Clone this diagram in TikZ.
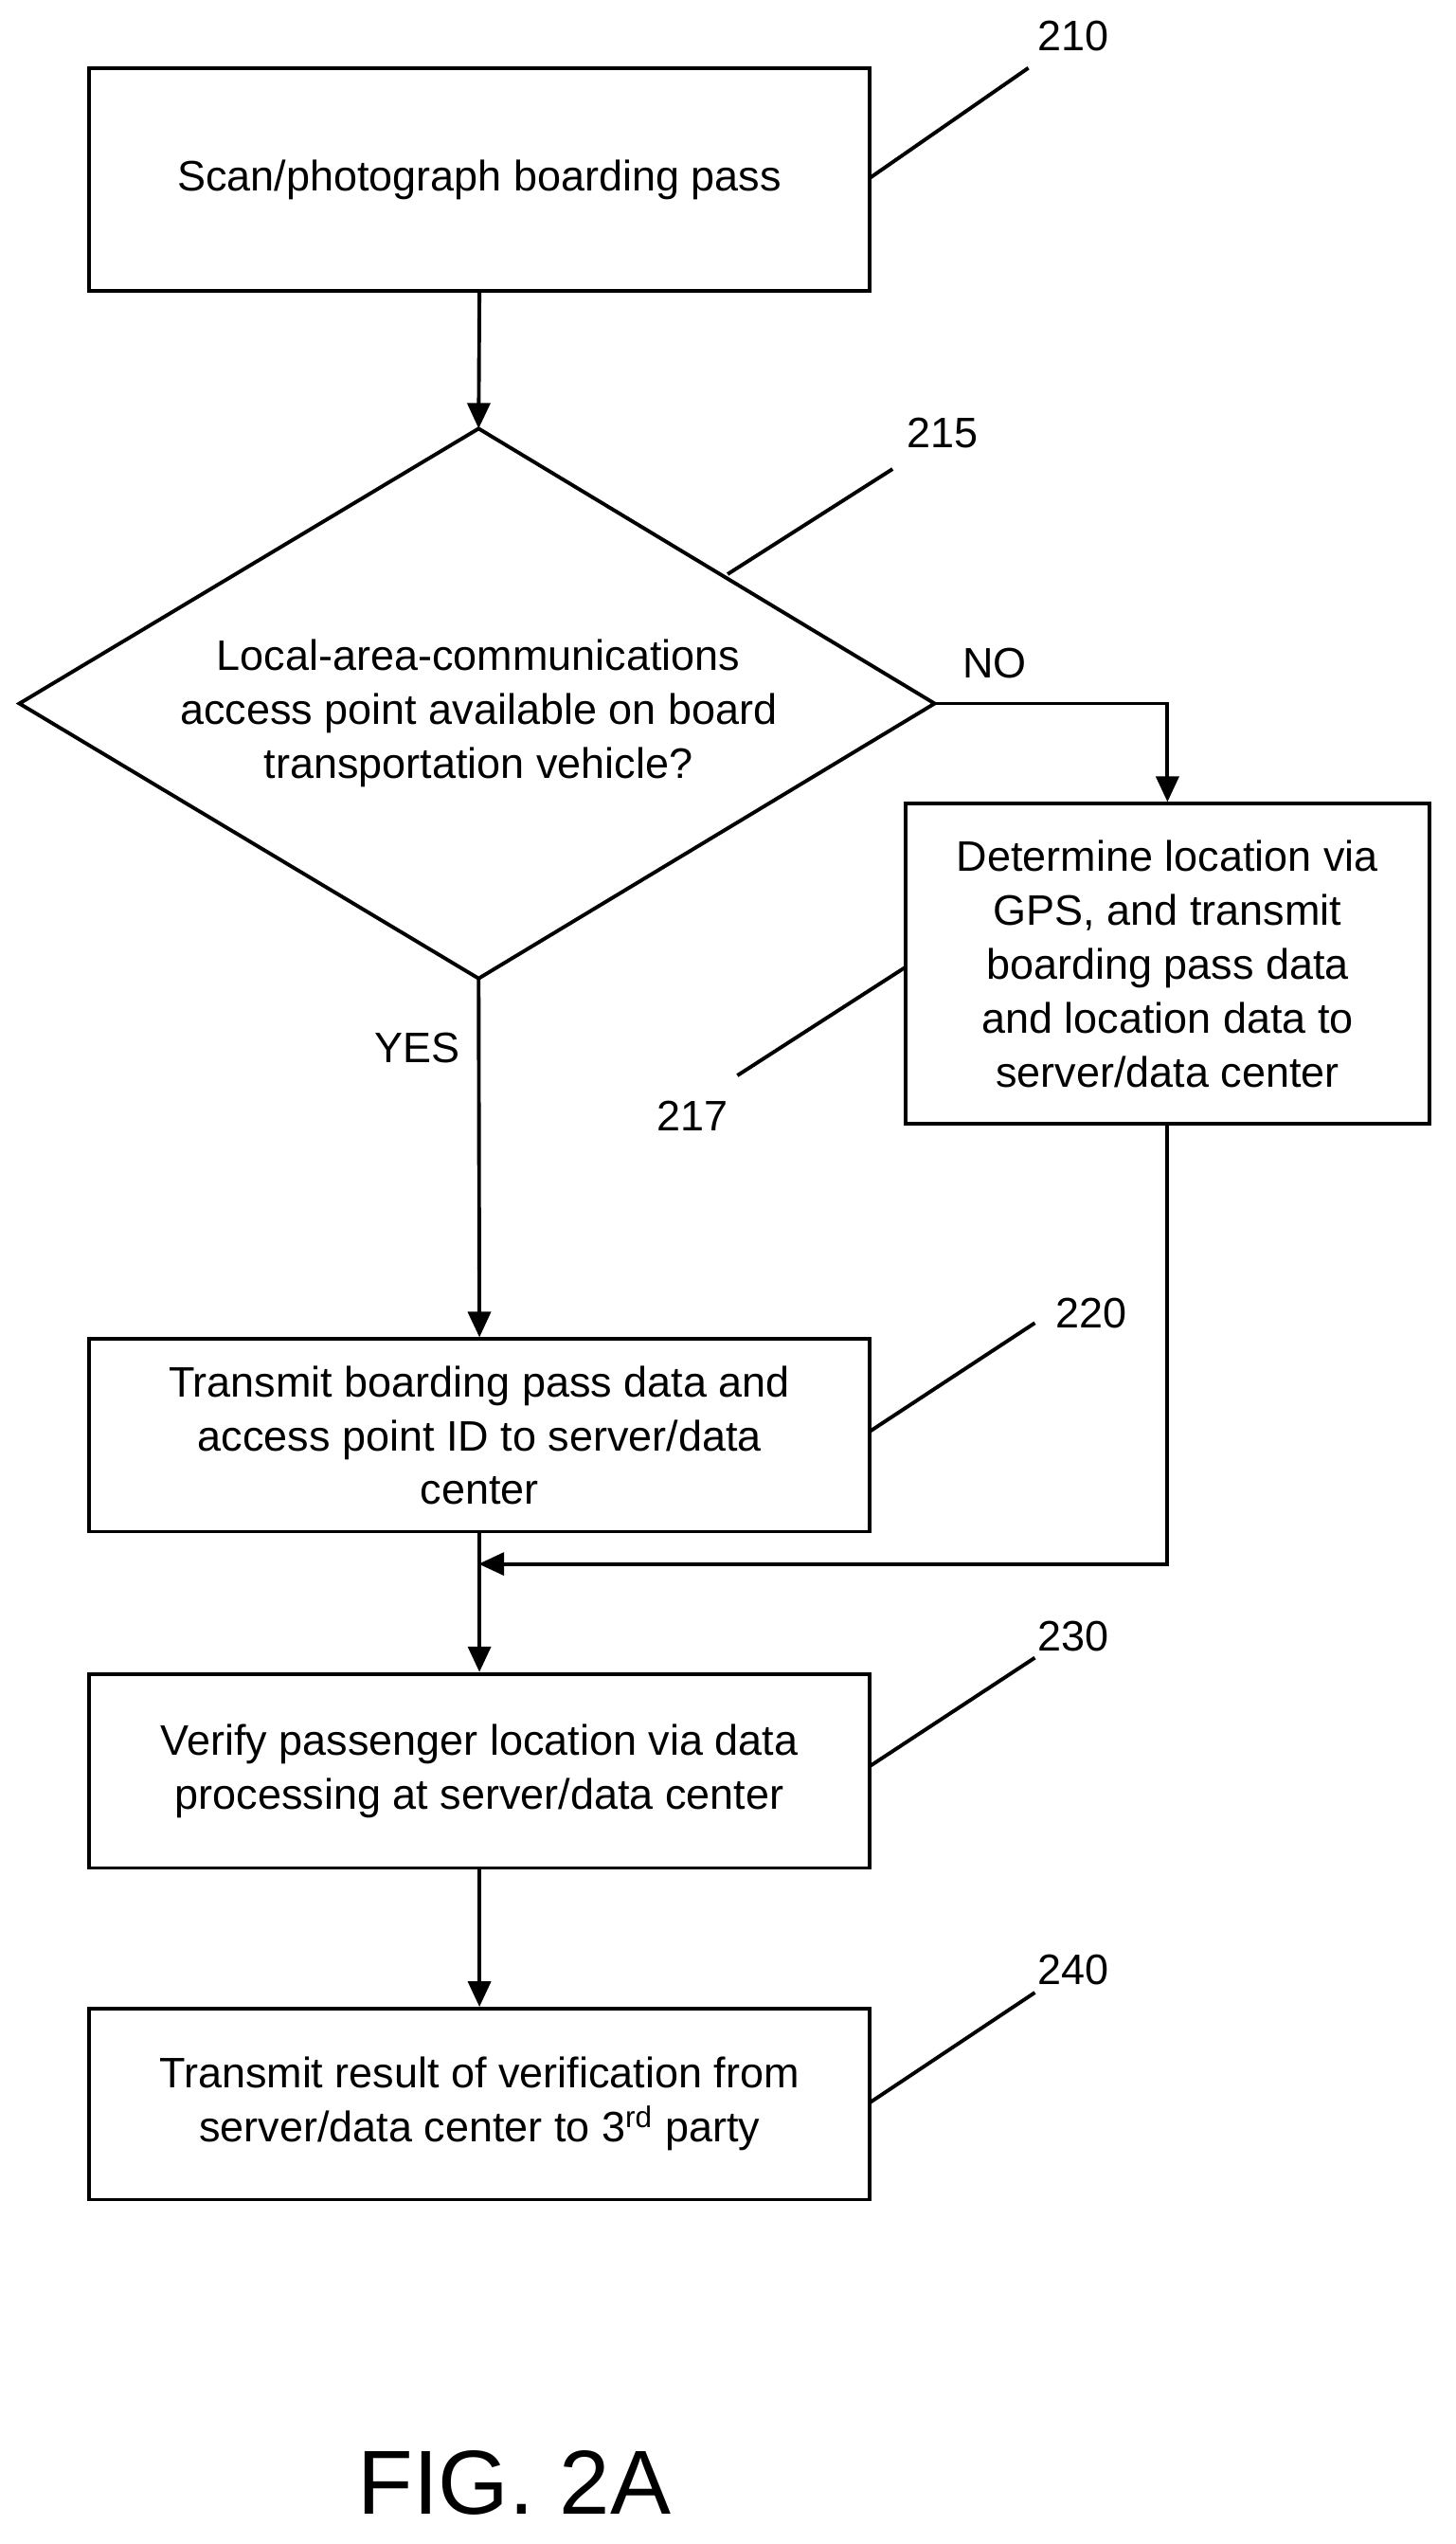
\documentclass[tikz,border=0pt]{standalone}
\usepackage{fontspec}
\setmainfont{Liberation Sans}
\usetikzlibrary{arrows.meta}
\begin{document}
\begin{tikzpicture}[x=0.02cm,y=-0.02cm,
 box/.style={draw,line width=1.3pt,align=center,font=\fontsize{15}{19}\selectfont,inner sep=0},
 arr/.style={line width=1.3pt,-{Triangle[length=9pt,width=8pt]}},
 lead/.style={line width=1.3pt},
 lbl/.style={font=\fontsize{15}{18}\selectfont}]
\useasboundingbox (0,0) rectangle (900,1573);
\node[box,minimum width=483*0.02cm,minimum height=138*0.02cm] (b210) at (296.5,111) {Scan/photograph boarding pass};
\draw[line width=1.3pt] (296,265) -- (578,435) -- (296,605) -- (12,435) -- cycle;
\coordinate (dt) at (296,265); \coordinate (dr) at (578,435); \coordinate (db) at (296,605);
\node[align=center,font=\fontsize{15}{19}\selectfont] (d215) at (296,441) {Local-area-communications\\access point available on board\\transportation vehicle?};
\node[box,minimum width=324*0.02cm,minimum height=198*0.02cm] (b217) at (722,596) {Determine location via\\GPS, and transmit\\boarding pass data\\and location data to\\server/data center};
\node[box,minimum width=483*0.02cm,minimum height=119*0.02cm] (b220) at (296.5,887.5) {Transmit boarding pass data and\\access point ID to server/data\\center};
\node[box,minimum width=483*0.02cm,minimum height=120*0.02cm] (b230) at (296.5,1095) {Verify passenger location via data\\processing at server/data center};
\node[box,minimum width=483*0.02cm,minimum height=118*0.02cm] (b240) at (296.5,1301) {Transmit result of verification from\\server/data center to 3\textsuperscript{rd} party};
\draw[arr] (b210.south) -- (dt);
\draw[arr] (dr) -- (722,435) -- (b217.north);
\node[lbl] (no) at (615,410) {NO};
\node[lbl] (yes) at (258,648) {YES};
\draw[arr] (db) -- (b220.north);
\coordinate (j) at (296,967);
\draw[arr] (b217.south) -- (722,967) -- (j);
\draw[arr] (b220.south) -- (b230.north);
\draw[arr] (b230.south) -- (b240.north);
\draw[lead] (538,110) -- (636,42); \node[lbl] (l210) at (664,22) {210};
\draw[lead] (450,355) -- (552,290); \node[lbl] (l215) at (583,268) {215};
\draw[lead] (560,598) -- (456,665); \node[lbl] (l217) at (428,690) {217};
\draw[lead] (538,885) -- (640,818); \node[lbl] (l220) at (675,812) {220};
\draw[lead] (538,1092) -- (640,1025); \node[lbl] (l230) at (664,1012) {230};
\draw[lead] (538,1300) -- (640,1232); \node[lbl] (l240) at (664,1218) {240};
\node[font=\fontsize{32}{36}\selectfont] (fig) at (318,1535) {FIG. 2A};
\end{tikzpicture}
\end{document}
